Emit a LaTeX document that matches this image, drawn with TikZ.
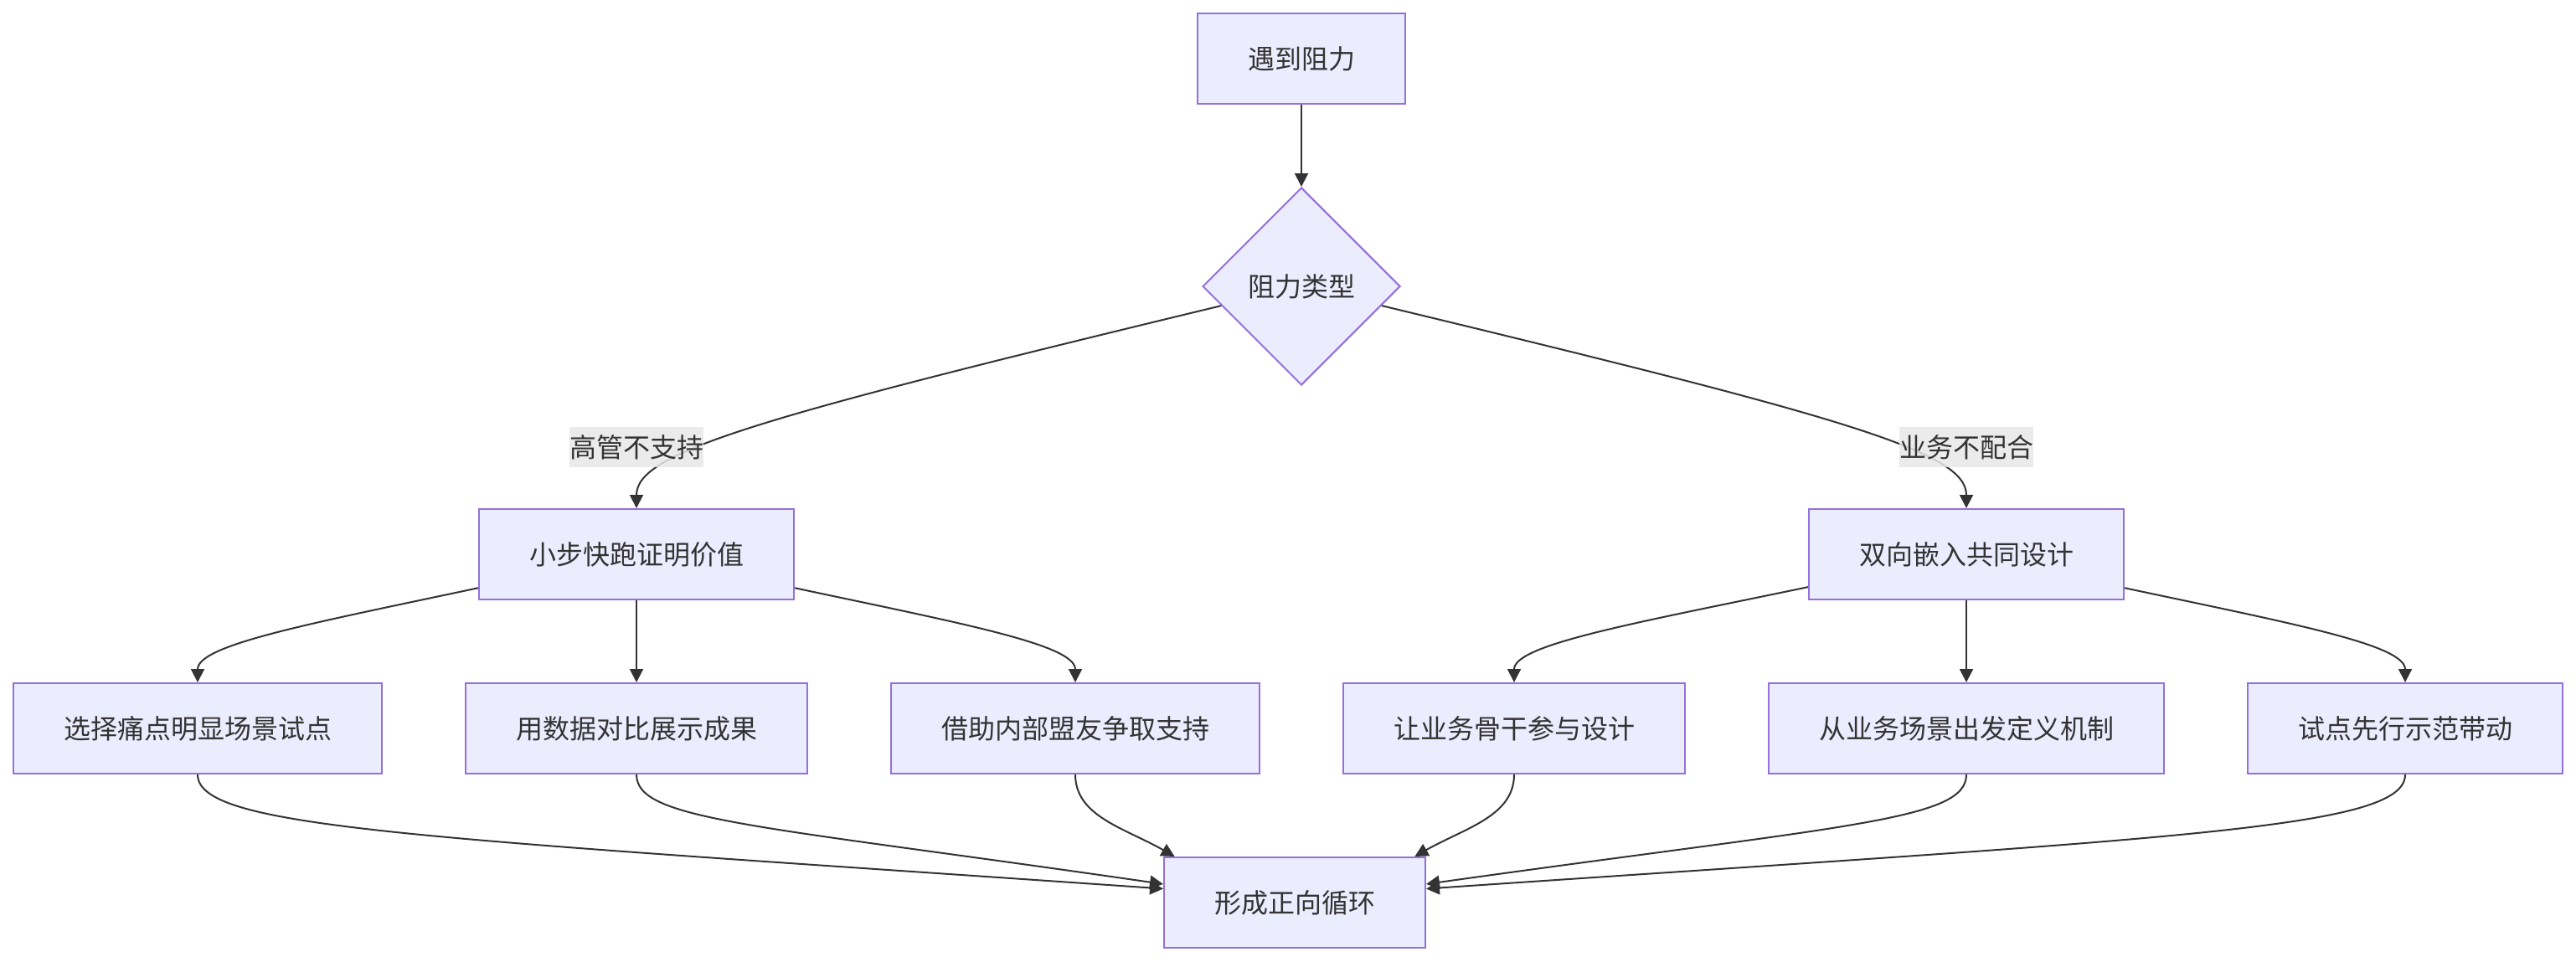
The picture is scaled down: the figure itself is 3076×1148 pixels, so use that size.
\documentclass[tikz,border=0pt]{standalone}
\usepackage{fontspec}
\setmainfont{Noto Sans CJK SC}
\usepackage{xcolor}
\usepackage{tikz}
\usetikzlibrary{arrows.meta, positioning, shapes.geometric}

\definecolor{boxfill}{HTML}{ECECFF}
\definecolor{boxline}{HTML}{9370DB}
\definecolor{inkgray}{HTML}{333333}
\definecolor{tagfill}{HTML}{E8E8E8}

\begin{document}
\begin{tikzpicture}[x=0.5pt, y=-0.5pt,
    box/.style={rectangle, draw=boxline, fill=boxfill, line width=1pt, inner xsep=30pt, inner ysep=0pt, minimum height=54pt, text=inkgray, font=\fontsize{16pt}{19pt}\selectfont},
    choice/.style={diamond, draw=boxline, fill=boxfill, line width=1pt, minimum width=118pt, minimum height=118pt, inner sep=0pt, text=inkgray, font=\fontsize{16pt}{19pt}\selectfont},
    tag/.style={rectangle, fill=tagfill, fill opacity=0.85, text opacity=1, inner sep=0pt, minimum height=24pt, text=inkgray, font=\fontsize{16pt}{19pt}\selectfont},
    link/.style={draw=inkgray, line width=1pt, -{Triangle[length=8pt, width=8pt]}}]
    \useasboundingbox (0,0) rectangle (3076,1148);

    % Start and decision
    \node[box] (meet) at (1554,70) {遇到阻力};
    \node[choice] (kind) at (1554,342) {阻力类型};
    \draw[link] (meet) -- (kind);

    % Two strategies
    \node[box] (quick) at (760,662) {小步快跑证明价值};
    \node[box] (embed) at (2348,662) {双向嵌入共同设计};
    \draw[link] (kind) .. controls (900,500) and (760,540) .. (quick.north);
    \draw[link] (kind) .. controls (2210,500) and (2348,540) .. (embed.north);
    \node[tag] (boss) at (760,534) {高管不支持};
    \node[tag] (biz) at (2348,534) {业务不配合};

    % Actions
    \node[box] (pain) at (236,870) {选择痛点明显场景试点};
    \node[box] (data) at (760,870) {用数据对比展示成果};
    \node[box] (ally) at (1284,870) {借助内部盟友争取支持};
    \node[box] (core) at (1808,870) {让业务骨干参与设计};
    \node[box] (scene) at (2348,870) {从业务场景出发定义机制};
    \node[box] (demo) at (2872,870) {试点先行示范带动};
    \draw[link] (quick) .. controls (370,745) and (236,770) .. (pain.north);
    \draw[link] (quick) -- (data);
    \draw[link] (quick) .. controls (1150,745) and (1284,770) .. (ally.north);
    \draw[link] (embed) .. controls (1948,745) and (1808,770) .. (core.north);
    \draw[link] (embed) -- (scene);
    \draw[link] (embed) .. controls (2738,745) and (2872,770) .. (demo.north);

    % Result
    \node[box] (loop) at (1546,1078) {形成正向循环};
    \draw[link] (pain.south) .. controls (236,990) and (500,1000) .. (loop.174);
    \draw[link] (data.south) .. controls (760,980) and (900,985) .. (loop.172);
    \draw[link] (ally.south) .. controls (1284,975) and (1343,989) .. (loop.159);
    \draw[link] (core.south) .. controls (1808,975) and (1749,989) .. (loop.21);
    \draw[link] (scene.south) .. controls (2348,980) and (2208,985) .. (loop.8);
    \draw[link] (demo.south) .. controls (2872,990) and (2608,1000) .. (loop.6);
\end{tikzpicture}
\end{document}
